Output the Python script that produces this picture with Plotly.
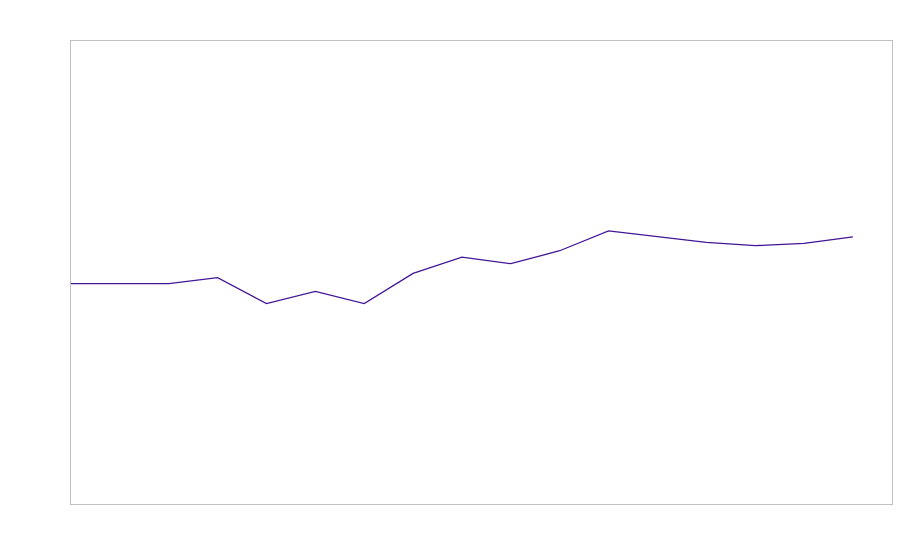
import plotly.graph_objects as go

x_values = list(range(17))
y_values = [47.6, 47.6, 47.6, 48.9, 43.3, 45.9, 43.3, 49.8, 53.3, 51.9, 54.7, 59.0, 57.8, 56.5, 55.8, 56.3, 57.7]

fig = go.Figure()
fig.add_trace(go.Scatter(x=x_values, y=y_values, mode="lines",
                         line=dict(color="#431597", width=1.3), showlegend=False))

axis_common = dict(showgrid=False, zeroline=False, showticklabels=False, ticks="",
                   showline=True, linecolor="#c0c0c0", linewidth=1, mirror=True)
fig.update_layout(
    width=900, height=560,
    margin=dict(l=71, r=8, t=41, b=56),
    paper_bgcolor="white", plot_bgcolor="white",
    xaxis=dict(range=[0, 16.8], **axis_common),
    yaxis=dict(range=[0, 100], **axis_common),
)
fig.write_html("out.html", config={"displayModeBar": False},
               post_script="document.body.style.margin='0';")
